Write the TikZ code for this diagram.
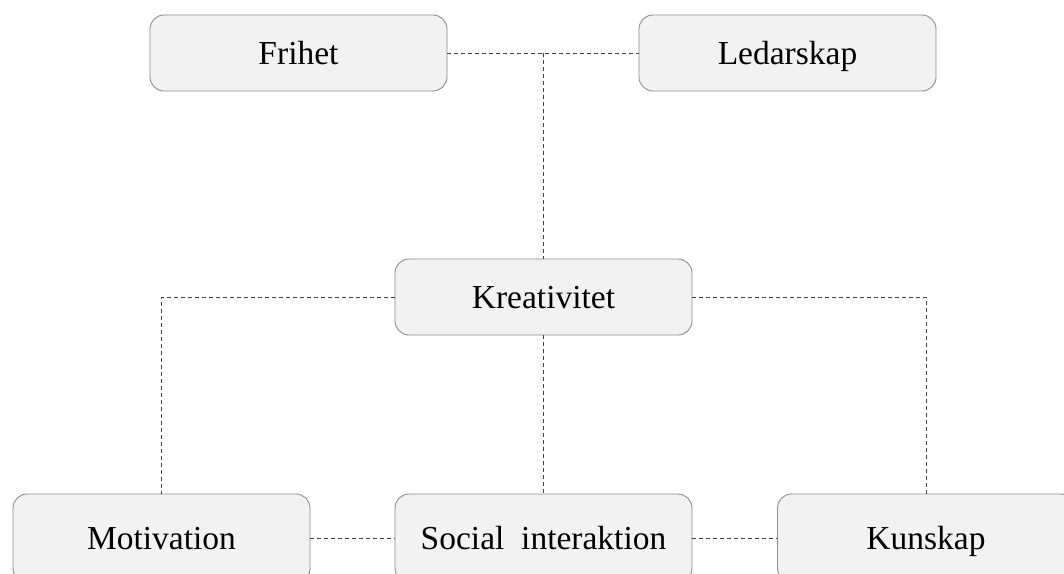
\documentclass[tikz,border=0pt]{standalone}
\usepackage{fontspec}
\setmainfont{Liberation Serif}
\definecolor{boxfill}{HTML}{F2F2F2}
\definecolor{boxline}{HTML}{8C8C8C}
\definecolor{conncol}{HTML}{404040}
\begin{document}
\begin{tikzpicture}[x=1pt,y=-1pt,
  box/.style={draw=boxline, fill=boxfill, line width=0.9pt, rounded corners=14pt,
    minimum width=297pt, minimum height=76pt, inner sep=0pt,
    text height=22pt, text depth=0pt,
    font=\fontsize{33.5}{40}\selectfont},
  lowbox/.style={box, minimum height=88pt},
  conn/.style={draw=conncol, line width=0.8pt, dash pattern=on 4pt off 3pt}]
\useasboundingbox (0,0) rectangle (1064,573);
\clip (0,0) rectangle (1064,573);
\node[box] (fri) at (298.5,53) {Frihet};
\node[box] (led) at (787.5,53) {Ledarskap};
\node[box] (kre) at (543.5,297) {Kreativitet};
\node[lowbox] (mot) at (161.5,538) {Motivation};
\node[lowbox] (soc) at (543.5,538) {Social\ \ interaktion};
\node[lowbox] (kun) at (926,538) {Kunskap};
\coordinate (tj) at (kre.north |- fri.east);
\draw[conn] (fri.east) -- (led.west);
\draw[conn] (tj) -- (kre.north);
\draw[conn] (kre.west) -| (mot.north);
\draw[conn] (kre.east) -| (kun.north);
\draw[conn] (kre.south) -- (soc.north);
\draw[conn] (mot.east) -- (soc.west);
\draw[conn] (soc.east) -- (kun.west);
\end{tikzpicture}
\end{document}
